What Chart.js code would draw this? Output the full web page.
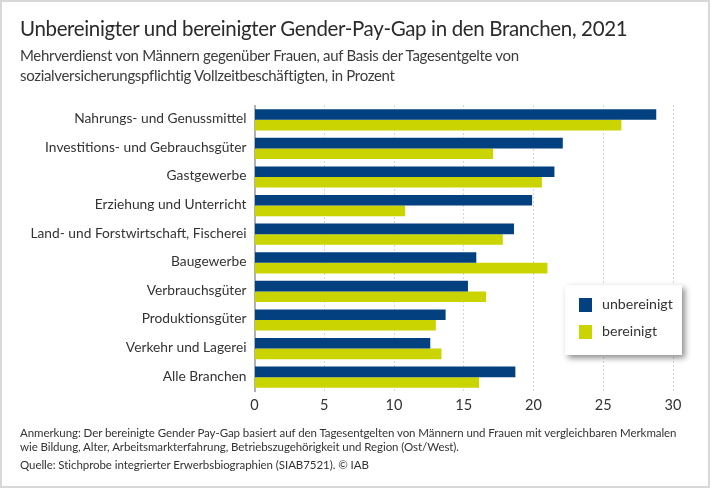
<!DOCTYPE html>
<html lang="de">
<head>
<meta charset="utf-8">
<title>Gender-Pay-Gap in den Branchen</title>
<script src="https://cdn.jsdelivr.net/npm/chart.js@4"></script>
<style>
  html, body { margin: 0; padding: 0; background: #fff; }
  body { width: 711px; height: 488px; position: relative; overflow: hidden; font-family: Lato, sans-serif; }
  #frame { position: absolute; left: 0; top: 0; width: 706px; height: 484px; border: 2px solid #d8d8d8; box-sizing: content-box; }
  #chartBox { position: absolute; left: 0; top: 0; width: 711px; height: 488px; }
  .txt { position: absolute; white-space: nowrap; }
  #title { left: 20px; top: 16px; font-size: 20.5px; letter-spacing: -0.35px; color: #2b2b2b; }
  #sub1, #sub2 { left: 20px; font-size: 15px; letter-spacing: -0.32px; color: #3c3c3c; }
  #sub1 { top: 46px; }
  #sub2 { top: 66px; }
  #note1, #note2, #source { left: 20px; font-size: 11.5px; letter-spacing: -0.07px; color: #333; }
  #note1 { top: 425.5px; }
  #note2 { top: 440px; }
  #source { top: 458px; }
  #legend { position: absolute; left: 565px; top: 285px; width: 117px; height: 70px; background: #fff; box-shadow: 3px 3px 6px rgba(0,0,0,.45); font-size: 14.2px; color: #333; }
  .row { position: absolute; left: 14px; height: 14px; line-height: 14px; }
  .row i { position: absolute; left: 0; top: 0; width: 13px; height: 14px; }
  .row span { position: absolute; left: 23px; top: -1px; }
</style>
</head>
<body>
<div id="frame"></div>
<div id="chartBox"><canvas id="gapChart"></canvas></div>
<div class="txt" id="title">Unbereinigter und bereinigter Gender-Pay-Gap in den Branchen, 2021</div>
<div class="txt" id="sub1">Mehrverdienst von Männern gegenüber Frauen, auf Basis der Tagesentgelte von</div>
<div class="txt" id="sub2">sozialversicherungspflichtig Vollzeitbeschäftigten, in Prozent</div>
<div class="txt" id="note1">Anmerkung: Der bereinigte Gender Pay-Gap basiert auf den Tagesentgelten von Männern und Frauen mit vergleichbaren Merkmalen</div>
<div class="txt" id="note2">wie Bildung, Alter, Arbeitsmarkterfahrung, Betriebszugehörigkeit und Region (Ost/West).</div>
<div class="txt" id="source">Quelle: Stichprobe integrierter Erwerbsbiographien (SIAB7521). © IAB</div>
<div id="legend"></div>

<script>
// ── Data ──────────────────────────────────────────────────
const branchen = [
  'Nahrungs- und Genussmittel', 'Investitions- und Gebrauchsgüter', 'Gastgewerbe',
  'Erziehung und Unterricht', 'Land- und Forstwirtschaft, Fischerei', 'Baugewerbe',
  'Verbrauchsgüter', 'Produktionsgüter', 'Verkehr und Lagerei', 'Alle Branchen'
];
const unbereinigt = [28.8, 22.1, 21.5, 19.9, 18.6, 15.9, 15.3, 13.7, 12.6, 18.7];
const bereinigt   = [26.3, 17.1, 20.6, 10.8, 17.8, 21.0, 16.6, 13.0, 13.4, 16.1];

const BLUE = '#03407f';
const LIME = '#c9d400';

// ── Legend ────────────────────────────────────────────────
const legendEl = document.getElementById('legend');
[['unbereinigt', BLUE, 13], ['bereinigt', LIME, 40]].forEach(([name, color, top]) => {
  const row = document.createElement('div');
  row.className = 'row';
  row.style.top = top + 'px';
  row.innerHTML = '<i style="background:' + color + '"></i><span>' + name + '</span>';
  legendEl.appendChild(row);
});

// ── Chart ─────────────────────────────────────────────────
Chart.defaults.font.family = "Lato, sans-serif";

new Chart(document.getElementById('gapChart'), {
  type: 'bar',
  data: {
    labels: branchen,
    datasets: [
      { label: 'unbereinigt', data: unbereinigt, backgroundColor: BLUE },
      { label: 'bereinigt',   data: bereinigt,   backgroundColor: LIME }
    ]
  },
  options: {
    indexAxis: 'y',
    responsive: true,
    maintainAspectRatio: false,
    animation: false,
    layout: { padding: { top: 105.5, right: 38, bottom: 0, left: 0 } },
    plugins: { legend: { display: false }, tooltip: { enabled: false } },
    datasets: { bar: { categoryPercentage: 0.74, barPercentage: 1 } },
    scales: {
      x: {
        min: 0, max: 30,
        afterFit: s => { s.height = 96.5; },
        ticks: { stepSize: 5, color: '#333', font: { size: 14.5 }, padding: 5, maxRotation: 0 },
        grid: { color: '#aaa', lineWidth: 1, drawTicks: false },
        border: { display: false, dash: [1, 3] }
      },
      y: {
        afterFit: s => { s.width = 254.5; },
        ticks: { color: '#333', font: { size: 13.75 }, padding: 8, autoSkip: false, labelOffset: -1 },
        grid: { display: false, drawTicks: false },
        border: { display: true, color: '#b0b0b0', width: 2 }
      }
    }
  }
});
</script>
</body>
</html>
